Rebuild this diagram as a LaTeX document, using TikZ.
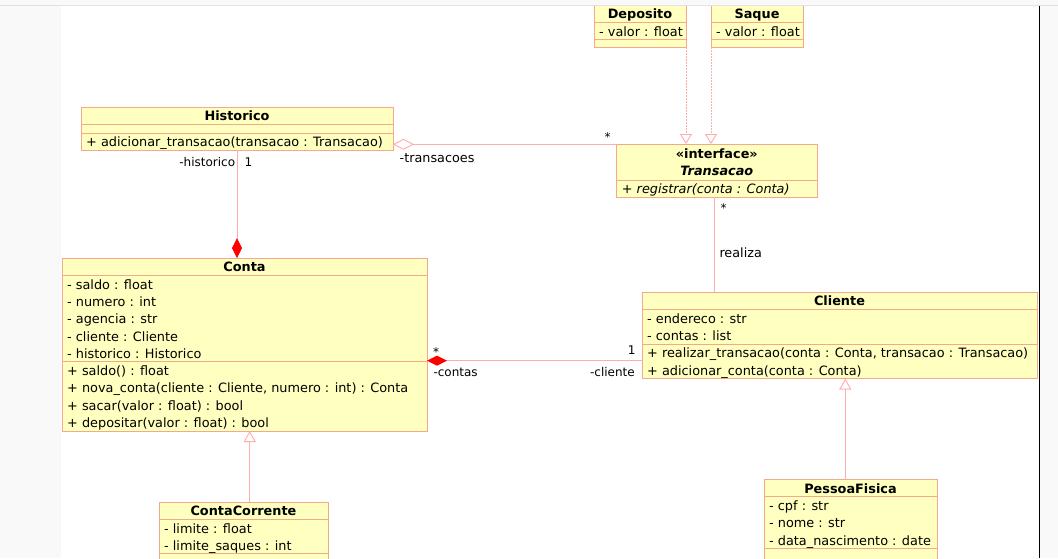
\documentclass[tikz,border=0pt]{standalone}
\usepackage{fontspec}
\setmainfont{DejaVu Sans}
\usetikzlibrary{arrows.meta}

\definecolor{boxfill}{RGB}{255,255,192}
\definecolor{boxedge}{RGB}{246,168,140}
\definecolor{linkline}{RGB}{255,172,172}
\definecolor{diamondred}{RGB}{255,0,0}
\definecolor{pagegray}{RGB}{249,249,249}
\definecolor{rulegray}{RGB}{226,226,226}

\tikzset{
  classbox/.style={draw=boxedge, fill=boxfill, line width=0.9pt, inner sep=0pt, outer sep=0pt, anchor=north west},
  sepline/.style={draw=boxedge, line width=0.9pt},
  member/.style={anchor=base west, inner sep=0pt, font=\fontsize{12.85}{15}\selectfont},
  ctitle/.style={anchor=base, inner sep=0pt, font=\fontsize{12.85}{15}\selectfont\bfseries},
  role/.style={inner sep=0pt, font=\fontsize{12}{14}\selectfont},
  bigrole/.style={inner sep=0pt, font=\fontsize{12.8}{14}\selectfont},
  link/.style={draw=linkline, line width=0.9pt},
  realizes/.style={link, dash pattern=on 2pt off 1pt, -{Triangle[open, fill=white, length=10pt, width=12pt]}},
  inherits/.style={link, -{Triangle[open, fill=white, length=11pt, width=12pt]}},
  composed/.style={link, {Diamond[color=diamondred, fill=diamondred, length=20pt, width=10pt]}-},
  aggregated/.style={link, {Diamond[open, fill=white, length=21pt, width=11pt]}-},
}

% rows of a compartment: name, left x, first baseline, list of texts
\newcommand\memberrows[4]{%
  \foreach \txt [count=\k] in {#4}
    \node[member] (#1-\k) at (#2,{#3+17.3*(\k-1)}) {\txt};%
}

\begin{document}
\begin{tikzpicture}[x=1pt,y=-1pt]
\useasboundingbox (0,0) rectangle (1058,558);
\fill[white] (0,0) rectangle (1058,558);

% ---------- Deposito ----------
\node[classbox, minimum width=92pt, minimum height=43.3pt] (deposito) at (594,4) {};
\draw[sepline] (594,22.3) -- (686,22.3);
\draw[sepline] (594,39.3) -- (686,39.3);
\node[ctitle] (deposito-t) at (640,18.8) {Deposito};
\memberrows{deposito}{599}{36.1}{{- valor : float}}

% ---------- Saque ----------
\node[classbox, minimum width=92pt, minimum height=43.3pt] (saque) at (711,4) {};
\draw[sepline] (711,22.3) -- (803,22.3);
\draw[sepline] (711,39.3) -- (803,39.3);
\node[ctitle] (saque-t) at (757,18.8) {Saque};
\memberrows{saque}{716}{36.1}{{- valor : float}}

% ---------- Transacao (interface) ----------
\node[classbox, minimum width=200.3pt, minimum height=53pt] (transacao) at (616.7,144) {};
\draw[sepline] (616.7,180) -- (817,180);
\node[ctitle] (transacao-s) at (716.8,158) {«interface»};
\node[ctitle, font=\fontsize{12.85}{15}\selectfont\bfseries\itshape] (transacao-t) at (716.8,175.4) {Transacao};
\node[member, font=\fontsize{12.85}{15}\selectfont\itshape] (transacao-1) at (621.7,193.6) {+ registrar(conta : Conta)};

% ---------- Historico ----------
\node[classbox, minimum width=312pt, minimum height=43pt] (historico) at (81,107) {};
\draw[sepline] (81,124) -- (393,124);
\draw[sepline] (81,133) -- (393,133);
\node[ctitle] (historico-t) at (237,120.8) {Historico};
\memberrows{historico}{86}{146.8}{{+ adicionar\_transacao(transacao : Transacao)}}

% ---------- Conta ----------
\node[classbox, minimum width=365pt, minimum height=173pt] (conta) at (62,258) {};
\draw[sepline] (62,275.3) -- (427,275.3);
\draw[sepline] (62,361.8) -- (427,361.8);
\node[ctitle] (conta-t) at (244.5,271.8) {Conta};
\memberrows{conta-a}{67}{289.1}{{- saldo : float},{- numero : int},{- agencia : str},{- cliente : Cliente},{- historico : Historico}}
\memberrows{conta-m}{67}{375.6}{{+ saldo() : float},{+ nova\_conta(cliente : Cliente, numero : int) : Conta},{+ sacar(valor : float) : bool},{+ depositar(valor : float) : bool}}

% ---------- Cliente ----------
\node[classbox, minimum width=395pt, minimum height=86.5pt] (cliente) at (642,292) {};
\draw[sepline] (642,309.3) -- (1037,309.3);
\draw[sepline] (642,344) -- (1037,344);
\node[ctitle] (cliente-t) at (839.5,305.8) {Cliente};
\memberrows{cliente-a}{647}{323.1}{{- endereco : str},{- contas : list}}
\memberrows{cliente-m}{647}{357.8}{{+ realizar\_transacao(conta : Conta, transacao : Transacao)},{+ adicionar\_conta(conta : Conta)}}

% ---------- ContaCorrente ----------
\node[classbox, minimum width=169pt, minimum height=60pt] (contacorrente) at (159,502) {};
\draw[sepline] (159,519.3) -- (328,519.3);
\draw[sepline] (159,553.9) -- (328,553.9);
\node[ctitle] (contacorrente-t) at (243.5,515.8) {ContaCorrente};
\memberrows{contacorrente}{164}{533.1}{{- limite : float},{- limite\_saques : int}}

% ---------- PessoaFisica ----------
\node[classbox, minimum width=173pt, minimum height=81pt] (pessoafisica) at (764,479.5) {};
\draw[sepline] (764,496.8) -- (937,496.8);
\draw[sepline] (764,548.7) -- (937,548.7);
\node[ctitle] (pessoafisica-t) at (850.5,493.3) {PessoaFisica};
\memberrows{pessoafisica}{769}{510.6}{{- cpf : str},{- nome : str},{- data\_nascimento : date}}

% ---------- relations ----------
% realizations of the interface
\draw[realizes] (deposito.south east) -- (deposito.south east |- transacao.north);
\draw[realizes] (saque.south west) -- (saque.south west |- transacao.north);

% Historico o-- Transacao
\draw[aggregated] ([yshift=-15.8pt]historico.east) -- ([yshift=-15.8pt]historico.east -| transacao.west);
\node[bigrole, anchor=base west] (lbl-transacoes) at (399.5,162.3) {-transacoes};
\node[role, anchor=base] (lbl-transacao-mult) at (607.5,141) {*};

% Historico --* Conta
\draw[composed] (historico.south |- conta.north) -- (historico.south);
\node[role, anchor=base east] (lbl-historico) at (235.3,166) {-historico};
\node[role, anchor=base west] (lbl-historico-mult) at (244.5,166) {1};

% Transacao -- Cliente
\draw[link] ([xshift=-2.5pt]transacao.south) -- ([xshift=-2.5pt]transacao.south |- cliente.north);
\node[role, anchor=base] (lbl-realiza-mult) at (723.5,212) {*};
\node[bigrole, anchor=base west] (lbl-realiza) at (719.3,257.3) {realiza};

% Conta *-- Cliente
\draw[composed] ([yshift=-16.2pt]conta.east) -- ([yshift=-16.2pt]conta.east -| cliente.west);
\node[role, anchor=base] (lbl-contas-mult) at (436,356) {*};
\node[role, anchor=base west] (lbl-contas) at (433.3,376.5) {-contas};
\node[role, anchor=base] (lbl-cliente-mult) at (631.7,354.3) {1};
\node[role, anchor=base east] (lbl-cliente) at (635,376.5) {-cliente};

% generalizations
\draw[inherits] ([xshift=6.2pt]contacorrente.north) -- ([xshift=6.2pt]contacorrente.north |- conta.south);
\draw[inherits] ([xshift=-5.2pt]pessoafisica.north) -- ([xshift=-5.2pt]pessoafisica.north |- cliente.south);

% ---------- page frame ----------
\fill[pagegray] (0,0) rectangle (1058,5.5);
\draw[rulegray, line width=1pt] (0,5.5) -- (1058,5.5);
\fill[pagegray] (0,6) rectangle (61,558);
\fill[pagegray] (1040,6) rectangle (1058,558);
\draw[black, line width=1.3pt] (1039.3,6) -- (1039.3,558);
\end{tikzpicture}
\end{document}
